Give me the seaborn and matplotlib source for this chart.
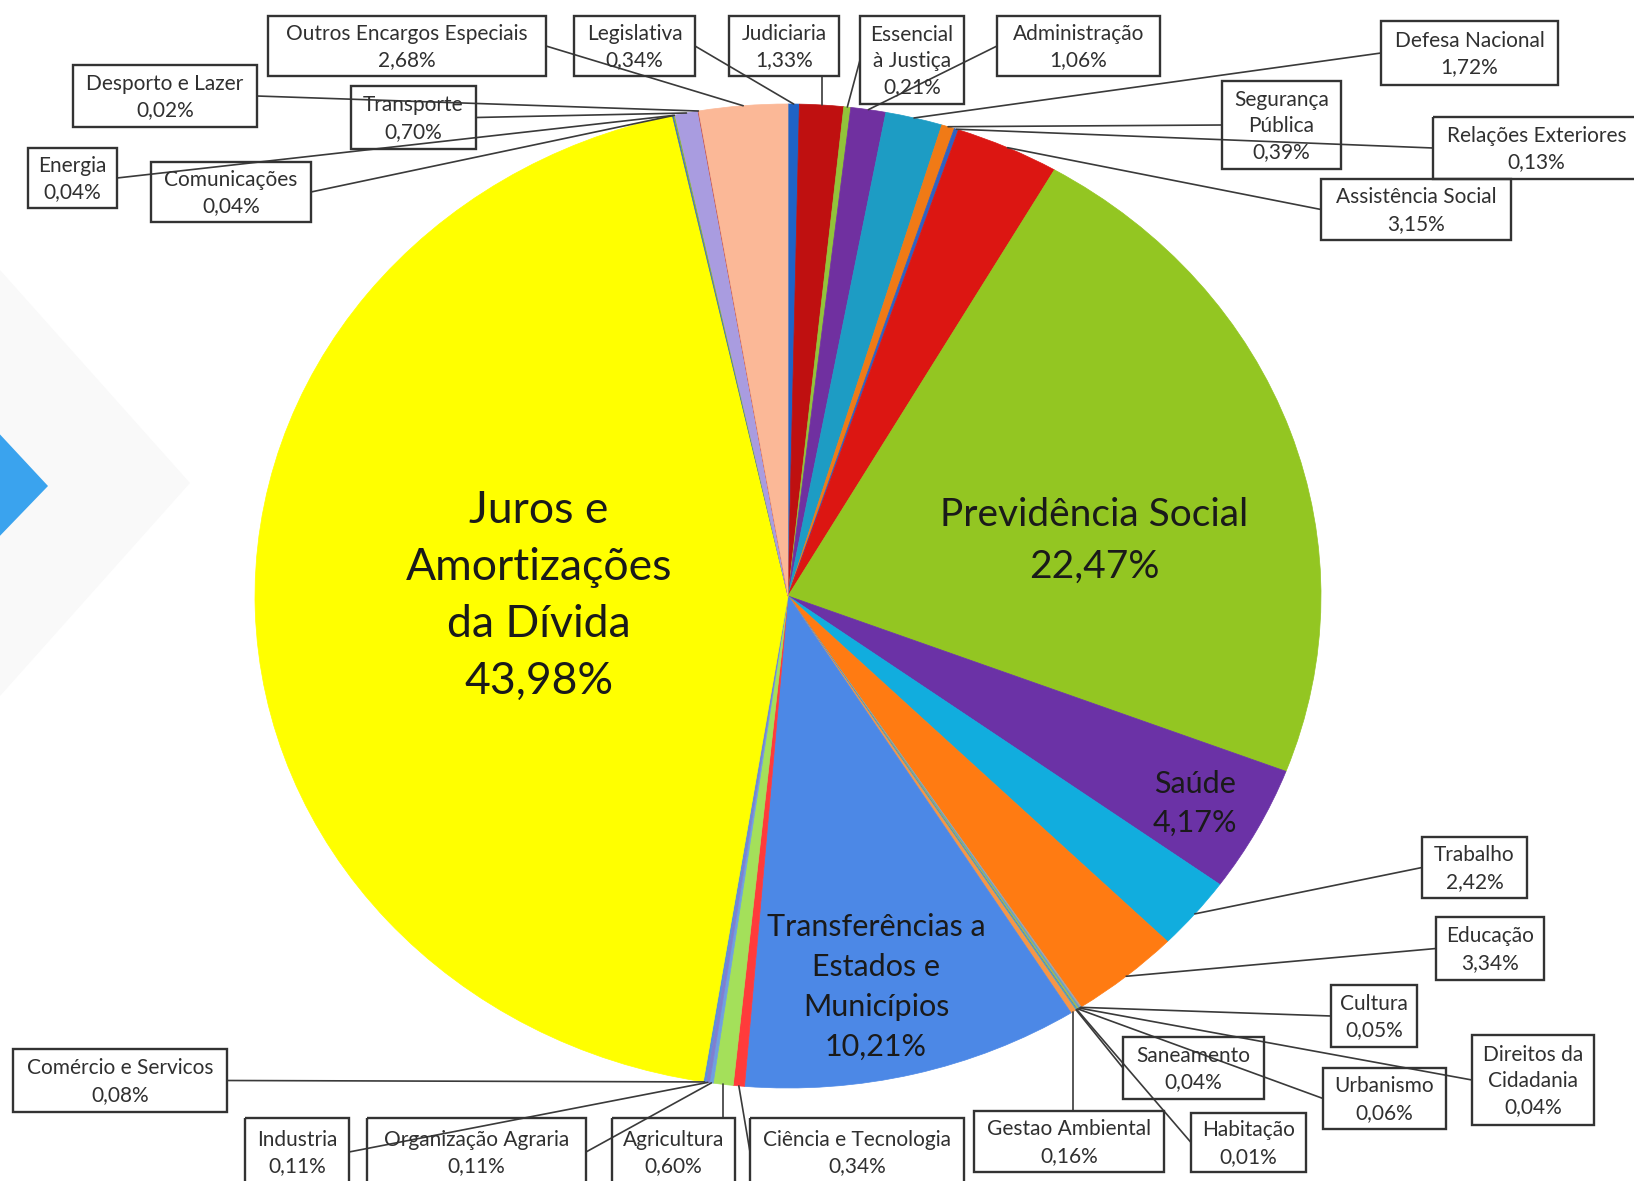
import numpy as np
import matplotlib
matplotlib.use('Agg')
import matplotlib.pyplot as plt
from matplotlib.patches import Rectangle, Polygon
import seaborn as sns

# Funções do orçamento, na ordem do gráfico (sentido horário a partir do topo)
funcoes = ['Legislativa', 'Judiciaria', 'Essencial\nà Justiça', 'Administração',
           'Defesa Nacional', 'Segurança\nPública', 'Relações Exteriores',
           'Assistência Social', 'Previdência Social', 'Saúde', 'Trabalho',
           'Educação', 'Cultura', 'Direitos da\nCidadania', 'Urbanismo',
           'Habitação', 'Saneamento', 'Gestao Ambiental',
           'Transferências a\nEstados e\nMunicípios', 'Ciência e Tecnologia',
           'Agricultura', 'Organização Agraria', 'Industria',
           'Comércio e Servicos', 'Juros e\nAmortizações\nda Dívida',
           'Comunicações', 'Energia', 'Transporte', 'Desporto e Lazer',
           'Outros Encargos Especiais']
percentuais = [0.34, 1.33, 0.21, 1.06, 1.72, 0.39, 0.13, 3.15, 22.47, 4.17,
               2.42, 3.34, 0.05, 0.04, 0.06, 0.01, 0.04, 0.16, 10.21, 0.34,
               0.60, 0.11, 0.11, 0.08, 43.98, 0.04, 0.04, 0.70, 0.02, 2.68]
cores = ['#1F63C6', '#BF1010', '#92C43A', '#7030A0', '#1D9CC4', '#F07A16',
         '#2F62C2', '#DC1612', '#93C622', '#6B32A6', '#11ADDE', '#FF7B12',
         '#A5A5A5', '#5B9BD5', '#9BBB59', '#8064A2', '#4BACC6', '#F79646',
         '#4C88E6', '#FF3B3B', '#A4E05A', '#6FA0E0', '#7F7FD0', '#5B8FD8',
         '#FFFF00', '#3D6FC0', '#8DB43A', '#A99CE0', '#C0504D', '#FBB897']

# rótulos dentro da pizza: índice -> (x, y, tamanho, espaçamento)
rotulos_internos = {24: (539, 596, 32, 1.48), 8: (1094, 541, 28, 1.52),
                    9: (1195, 803, 22, 1.46), 18: (876, 987, 22, 1.52)}

# caixas dos rótulos externos em pixels: índice -> (x0, y0, x1, y1)
caixas = {29: (268, 16, 546, 76), 0: (574, 16, 695, 76), 1: (729, 16, 839, 76),
          2: (860, 16, 964, 104), 3: (997, 16, 1160, 76), 4: (1381, 21, 1558, 85),
          5: (1222, 81, 1341, 169), 6: (1433, 117, 1640, 179),
          7: (1321, 179, 1511, 240), 28: (73, 65, 257, 127),
          27: (351, 86, 476, 149), 26: (28, 148, 117, 208),
          25: (151, 162, 311, 222), 10: (1422, 837, 1527, 898),
          11: (1436, 917, 1544, 980), 12: (1331, 985, 1417, 1047),
          16: (1123, 1037, 1264, 1099), 14: (1323, 1068, 1446, 1129),
          13: (1472, 1035, 1594, 1125), 17: (974, 1111, 1164, 1172),
          15: (1191, 1113, 1306, 1172), 23: (13, 1049, 227, 1112),
          22: (245, 1118, 349, 1186), 21: (367, 1118, 586, 1186),
          20: (612, 1118, 735, 1186), 19: (750, 1118, 964, 1186)}

sns.set_theme(style='white')
plt.rcParams['font.family'] = ['Lato', 'DejaVu Sans']

W, H = 1634, 1181
cx, cy, rx, ry = 788, 596, 533, 492   # elipse da pizza (imagem esticada)

fig = plt.figure(figsize=(W / 100, H / 100), dpi=100)
fig.patch.set_facecolor('white')

ax = fig.add_axes([(cx - rx) / W, (H - cy - ry) / H, 2 * rx / W, 2 * ry / H])
wedges, _ = ax.pie(percentuais, colors=cores, startangle=90, counterclock=False,
                   wedgeprops=dict(linewidth=0.5))
for w, c in zip(wedges, cores):
    w.set_edgecolor(c)
ax.set_xlim(-1, 1)
ax.set_ylim(-1, 1)
ax.set_aspect('auto')
ax.axis('off')

# camada por cima em coordenadas de pixel
ov = fig.add_axes([0, 0, 1, 1], zorder=5)
ov.set_xlim(0, W)
ov.set_ylim(H, 0)
ov.axis('off')
ov.patch.set_alpha(0)

# losangos decorativos da página de origem
ov.add_patch(Polygon([(0, 270), (190, 483), (0, 696), (-190, 483)],
                     closed=True, fc='#F9F9F9', ec='none', zorder=0))
ov.add_patch(Polygon([(-6, 428), (48, 486), (-6, 542), (-60, 486)],
                     closed=True, fc='#3AA3EE', ec='none', zorder=1))


def ancora(w):
    t = np.deg2rad((w.theta1 + w.theta2) / 2)
    disp = ax.transData.transform((np.cos(t), np.sin(t)))
    return ov.transData.inverted().transform(disp)


for i, (x0, y0, x1, y1) in caixas.items():
    px, py = ancora(wedges[i])
    if px < x0:
        bx, by = x0, (y0 + y1) / 2
    elif px > x1:
        bx, by = x1, (y0 + y1) / 2
    else:
        bx, by = px, (y0 if py < y0 else y1)
    ov.plot([px, bx], [py, by], color='#3A3A3A', lw=1.2, zorder=2)
    ov.add_patch(Rectangle((x0, y0), x1 - x0, y1 - y0, fill=False,
                           ec='#333333', lw=1.7, zorder=3))
    txt = funcoes[i] + '\n' + f'{percentuais[i]:.2f}%'.replace('.', ',')
    ov.text((x0 + x1) / 2, (y0 + y1) / 2 + 1, txt, ha='center', va='center',
            fontsize=15, color='#303030', linespacing=1.4, zorder=4)

for i, (x, y, fs, ls) in rotulos_internos.items():
    txt = funcoes[i] + '\n' + f'{percentuais[i]:.2f}%'.replace('.', ',')
    ov.text(x, y, txt, ha='center', va='center', fontsize=fs,
            color='#1A1A1A', linespacing=ls, zorder=4)

fig.savefig('out.png', dpi=100)
